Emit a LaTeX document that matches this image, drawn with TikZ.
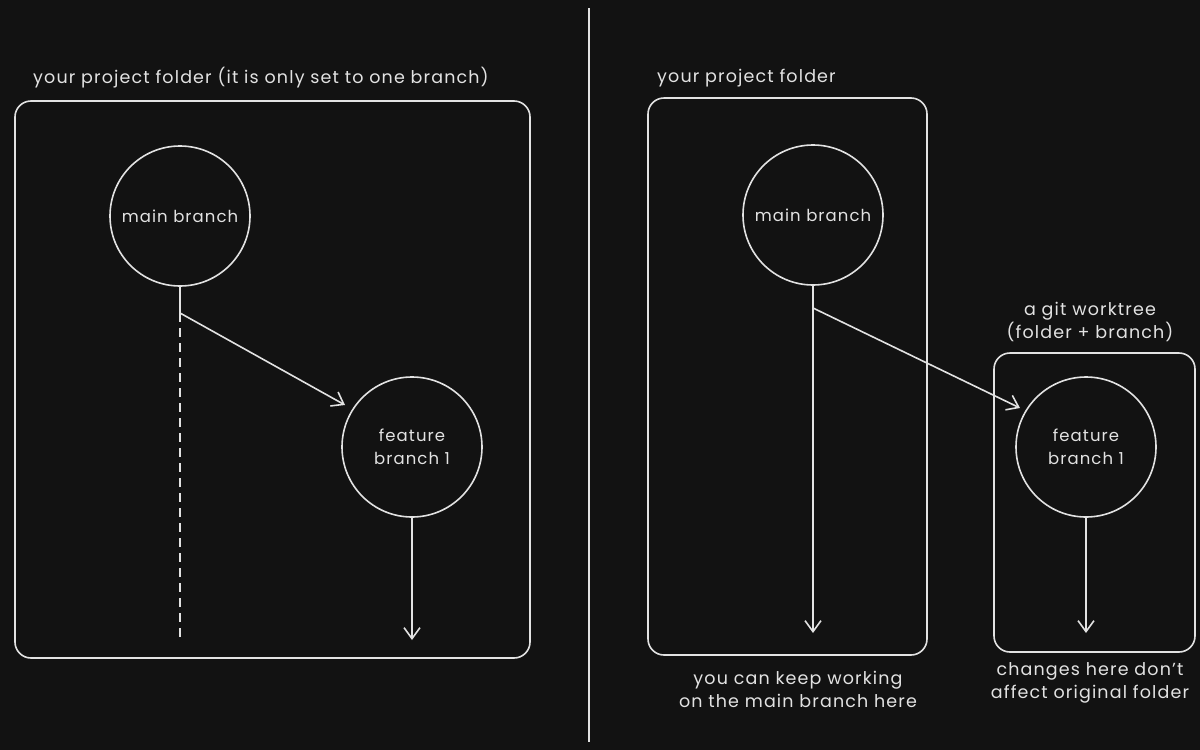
\documentclass[tikz,border=0pt]{standalone}
\usepackage{fontspec}
\setmainfont{Poppins}[LetterSpace=6.5]
\usetikzlibrary{arrows.meta}
\definecolor{bg}{HTML}{121212}
\definecolor{ink}{HTML}{E2E2E2}
\begin{document}
\begin{tikzpicture}[x=1pt,y=-1pt,
  every node/.style={text=ink, font=\fontsize{17.5}{23}\selectfont},
  stroke/.style={draw=ink, line width=1.6pt},
  folder/.style={stroke, rounded corners=16pt},
  branch/.style={stroke, circle, minimum size=140pt, inner sep=0pt, align=center, font=\fontsize{16.5}{23}\selectfont},
  arr/.style={stroke, -{Straight Barb[length=11pt,width=16pt,line width=1.6pt]}},
  lbl/.style={align=center, inner sep=0pt}
]
\fill[bg] (0,0) rectangle (1200,750);
\useasboundingbox (0,0) rectangle (1200,750);

% divider
\coordinate (d1) at (589,8);
\coordinate (d2) at (589,742);
\draw[stroke] (d1) -- (d2);

% ---------- left ----------
\draw[folder] (15,101) rectangle (530,658);
\node[lbl, anchor=west] (lt) at (33,78) {your project folder (it is only set to one branch)};
\node[branch] (lm) at (180,216) {main branch};
\node[branch] (lf) at (412,447) {feature\\branch 1};
\coordinate (lj) at (180,313);
\coordinate (lend) at (180,640);
\coordinate (lfe) at (412,640);
\coordinate (lfa) at (345,405);
\draw[stroke] (lm.south) -- (lj);
\draw[stroke, dash pattern=on 9pt off 6pt] (lj) -- (lend);
\draw[arr] (lj) -- (lfa);
\draw[arr] (lf.south) -- (lfe);

% ---------- right ----------
\draw[folder] (648,98) rectangle (927,655);
\node[lbl, anchor=west] (rt) at (657,78) {your project folder};
\node[branch] (rm) at (813,215) {main branch};
\coordinate (rj) at (813,308);
\coordinate (re) at (813,633);
\draw[arr] (rm.south) -- (re);

\draw[folder] (994,353) rectangle (1195,652);
\node[lbl] (wt) at (1090,322) {a git worktree\\(folder + branch)};
\node[branch] (rf) at (1086,447) {feature\\branch 1};
\coordinate (rfe) at (1086,633);
\coordinate (rfa) at (1020,408);
\draw[arr] (rj) -- (rfa);
\draw[arr] (rf.south) -- (rfe);

\node[lbl] (b1) at (798,689) {you can keep working\\on the main branch here};
\node[lbl] (b2) at (1090,683) {changes here don't\\affect original folder};
\end{tikzpicture}
\end{document}
